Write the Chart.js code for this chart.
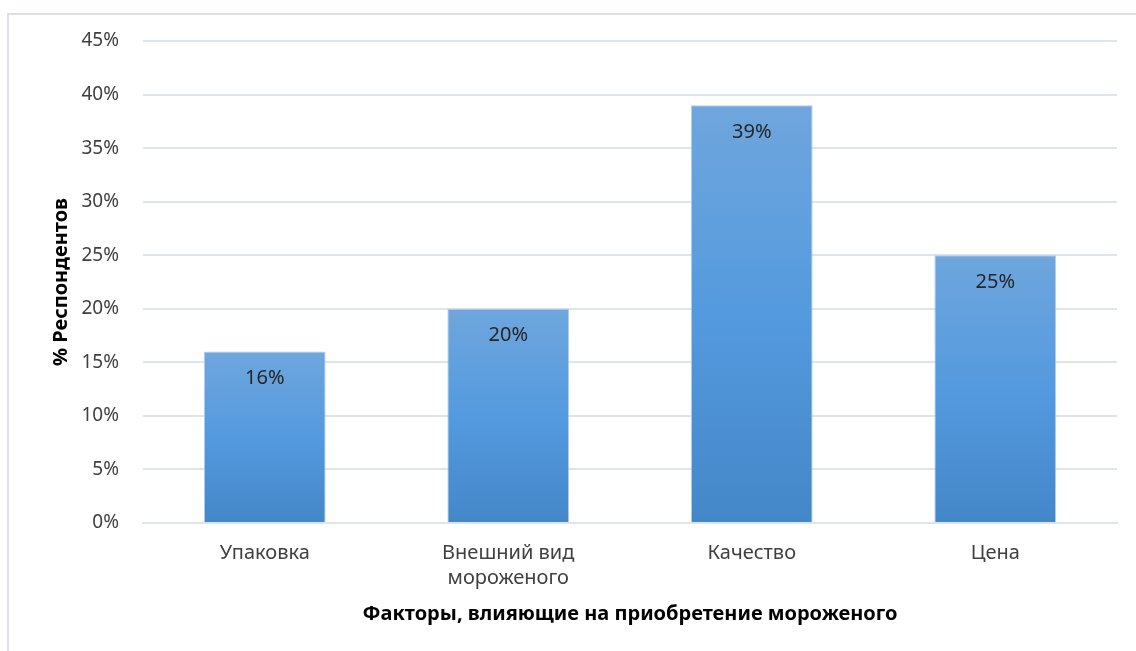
<!DOCTYPE html>
<html>
<head>
<meta charset="utf-8">
<script src="https://cdn.jsdelivr.net/npm/chart.js@4/dist/chart.umd.min.js"></script>
<style>
  html, body { margin: 0; padding: 0; background: #ffffff; }
  #wrap { width: 1136px; height: 651px; position: relative; }
</style>
</head>
<body>
<div id="wrap"><canvas id="c" width="1136" height="651"></canvas></div>
<script>
// Факторы и доля респондентов (%)
const categories = [['Упаковка'], ['Внешний вид', 'мороженого'], ['Качество'], ['Цена']];
const shares = [16, 20, 39, 25];
const yTicks = [0, 5, 10, 15, 20, 25, 30, 35, 40, 45];
const yTitle = '% Респондентов';
const xTitle = 'Факторы, влияющие на приобретение мороженого';

const FONT = "'Noto Sans', 'Open Sans', sans-serif";

// Light frame around the whole chart
const framePlugin = {
  id: 'frame',
  beforeDraw(chart) {
    const ctx = chart.ctx;
    ctx.save();
    ctx.strokeStyle = '#dde1e6';
    ctx.lineWidth = 2;
    ctx.beginPath();
    ctx.moveTo(8, chart.height + 2);
    ctx.lineTo(8, 14);
    ctx.lineTo(chart.width + 2, 14);
    ctx.stroke();
    ctx.restore();
  }
};

// Value labels inside the top of each bar
const valueLabels = {
  id: 'valueLabels',
  afterDatasetsDraw(chart) {
    const ctx = chart.ctx;
    const meta = chart.getDatasetMeta(0);
    ctx.save();
    ctx.font = '20px ' + FONT;
    ctx.fillStyle = '#262626';
    ctx.textAlign = 'center';
    ctx.textBaseline = 'middle';
    meta.data.forEach((bar, i) => {
      ctx.fillText(shares[i] + '%', bar.x, bar.y + 27);
    });
    ctx.restore();
  }
};

function barGradient(context) {
  const chart = context.chart;
  if (context.type !== 'data' || !chart.chartArea) return '#5599dd';
  const y = chart.scales.y;
  const top = y.getPixelForValue(context.raw);
  const bottom = y.getPixelForValue(0);
  const g = chart.ctx.createLinearGradient(0, top, 0, bottom);
  g.addColorStop(0, '#6fa6dd');
  g.addColorStop(0.5, '#549ade');
  g.addColorStop(1, '#4487c9');
  return g;
}

new Chart(document.getElementById('c'), {
  type: 'bar',
  data: {
    labels: categories,
    datasets: [{
      data: shares,
      backgroundColor: barGradient,
      borderColor: 'rgba(170, 200, 235, 0.9)',
      borderWidth: 1,
      borderSkipped: 'bottom',
      barPercentage: 0.5,
      categoryPercentage: 1.0
    }]
  },
  options: {
    responsive: false,
    animation: false,
    events: [],
    layout: { padding: { top: 41, right: 19, bottom: 25, left: 49 } },
    plugins: {
      legend: { display: false },
      tooltip: { enabled: false }
    },
    scales: {
      x: {
        grid: { display: false, drawTicks: false },
        border: { display: true, color: '#dfe3ea', width: 2 },
        ticks: { color: '#404040', font: { family: FONT, size: 20, lineHeight: 1.25 }, padding: 18, maxRotation: 0 },
        title: { display: true, text: xTitle, color: '#000000', font: { family: FONT, size: 20, weight: 'bold' }, padding: 0 },
        afterFit(scale) { scale.height = 103; }
      },
      y: {
        min: 0,
        max: 45,
        afterBuildTicks(scale) { scale.ticks = yTicks.map(v => ({ value: v })); },
        grid: { color: '#dfe3ea', lineWidth: 2, drawTicks: false },
        border: { display: false },
        ticks: { color: '#404040', font: { family: FONT, size: 19 }, padding: 24, callback: v => v + '%' },
        title: { display: true, text: yTitle, color: '#000000', font: { family: FONT, size: 20, weight: 'bold' }, padding: 0 },
        afterFit(scale) { scale.width = 143 - 49; }
      }
    }
  },
  plugins: [framePlugin, valueLabels]
});
</script>
</body>
</html>
